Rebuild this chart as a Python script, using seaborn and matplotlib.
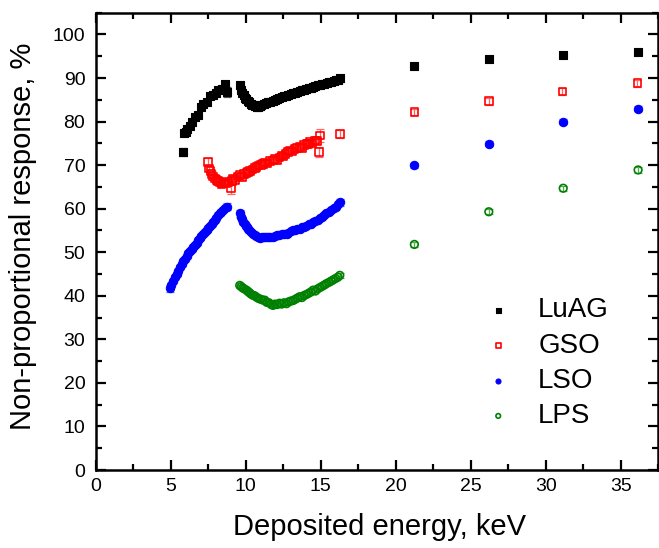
import numpy as np
import pandas as pd
import matplotlib
matplotlib.use("Agg")
import matplotlib.pyplot as plt
import seaborn as sns
from matplotlib.ticker import MultipleLocator

# ---------------- data ----------------
luag_e = [5.79, 5.88, 5.99, 6.10, 6.28, 6.43, 6.61, 6.83, 7.05, 7.12, 7.39, 7.61, 7.79, 8.00, 8.16, 8.39, 8.61, 8.72,
          9.62, 9.70, 9.78, 9.86, 9.95, 10.05, 10.15, 10.25, 10.35, 10.45, 10.55, 10.65, 10.75, 10.85, 10.95, 11.05,
          11.20, 11.35, 11.50, 11.65, 11.80, 11.95, 12.10, 12.25, 12.40, 12.55, 12.70, 12.85, 13.00, 13.15, 13.30,
          13.45, 13.60, 13.75, 13.90, 14.05, 14.20, 14.35, 14.50, 14.65, 14.80, 14.95, 15.10, 15.25, 15.40, 15.55,
          15.70, 15.85, 16.00, 16.15, 16.27,
          21.24, 26.20, 31.16, 36.15]
luag_v = [73.0, 77.4, 77.7, 78.3, 79.1, 79.9, 81.0, 81.6, 83.3, 84.1, 84.5, 85.8, 86.2, 86.5, 87.3, 87.5, 88.7, 86.8,
          88.3, 87.2, 86.5, 86.0, 85.5, 85.1, 84.7, 84.4, 84.1, 83.9, 83.7, 83.5, 83.4, 83.3, 83.5, 83.7,
          84.0, 84.2, 84.4, 84.6, 84.8, 85.0, 85.2, 85.4, 85.6, 85.8, 85.9, 86.1, 86.3, 86.5, 86.6,
          86.8, 87.0, 87.2, 87.3, 87.5, 87.6, 87.8, 88.0, 88.1, 88.3, 88.4, 88.6, 88.7, 88.9, 89.0,
          89.2, 89.3, 89.5, 89.6, 89.9,
          92.7, 94.4, 95.4, 95.9]
luag_err = ([1.0, 0.6, 0.6] + [0.5] * 13 + [0.6, 1.2]
            + [0.8] + [0.4] * 13 + [0.9, 0.4]
            + [0.4] * 30 + [0.4] * 4 + [0.9]
            + [0.6, 0.6, 0.6, 0.6])

gso_e = [7.50, 7.57, 7.65, 7.72, 7.83, 7.94, 8.05, 8.16, 8.27, 8.38, 8.50, 8.61, 8.72, 8.85, 9.00, 9.10, 9.16, 9.30,
         9.45, 9.60, 9.75, 9.90, 10.05, 10.16, 10.30, 10.45, 10.60, 10.71, 10.85, 11.00, 11.16, 11.30, 11.45, 11.60,
         11.82, 11.95, 12.10, 12.25, 12.38, 12.50, 12.65, 12.80, 12.94, 13.10, 13.25, 13.40, 13.60, 13.75, 13.90,
         14.05, 14.15, 14.30, 14.45, 14.60, 14.75, 14.89, 14.93, 16.27,
         21.24, 26.20, 31.10, 36.10]
gso_v = [70.7, 69.2, 68.6, 68.0, 67.4, 66.9, 66.6, 66.3, 66.1, 65.6, 65.8, 66.0, 65.8, 66.2, 64.6, 66.4, 66.9, 66.6,
         67.4, 67.7, 67.3, 67.9, 68.2, 68.4, 68.6, 69.0, 69.3, 69.6, 69.9, 70.1, 70.3, 70.6, 70.4, 70.9,
         71.1, 71.4, 71.2, 71.8, 72.2, 72.0, 72.6, 73.0, 73.4, 73.1, 73.7, 73.9, 74.2, 74.0, 74.6,
         74.9, 74.9, 75.3, 75.0, 75.7, 75.5, 73.0, 76.8, 77.1,
         82.2, 84.7, 86.9, 88.8]
gso_err = ([1.0] + [0.6] * 13 + [1.2] + [0.6] * 3
           + [0.6] * 12 + [1.0] + [0.6] * 3
           + [0.6] * 15
           + [0.6] * 6 + [1.2, 1.4, 0.9]
           + [0.8, 0.8, 0.8, 0.8])

lso_e = [4.95, 5.05, 5.15, 5.28, 5.40, 5.50, 5.61, 5.72, 5.83, 5.95, 6.06, 6.17, 6.28, 6.39, 6.50, 6.61, 6.72, 6.83,
         6.94, 7.05, 7.17, 7.28, 7.39, 7.50, 7.61, 7.72, 7.83, 7.94, 8.05, 8.16, 8.27, 8.38, 8.50, 8.61, 8.72,
         9.60, 9.68, 9.76, 9.83, 9.92, 10.00, 10.08, 10.16, 10.25, 10.35, 10.49, 10.60, 10.70, 10.83, 10.95, 11.10,
         11.25, 11.38, 11.50, 11.65, 11.82, 11.95, 12.10, 12.25, 12.40, 12.55, 12.72, 12.85, 13.00, 13.15, 13.30,
         13.45, 13.60, 13.75, 13.90, 14.05, 14.20, 14.35, 14.49, 14.65, 14.80, 14.95, 15.10, 15.25, 15.38, 15.55,
         15.70, 15.85, 16.00, 16.15, 16.27,
         21.24, 26.20, 31.16, 36.15]
lso_v = [41.7, 42.5, 43.3, 44.3, 45.0, 45.8, 46.6, 47.3, 47.9, 48.5, 49.1, 49.9, 50.4, 50.8, 51.2, 51.7, 52.2, 52.7,
         53.2, 53.7, 54.2, 54.7, 55.1, 55.6, 56.1, 56.6, 57.0, 57.5, 57.9, 58.5, 58.9, 59.3, 59.8, 60.1, 60.4,
         58.9, 58.2, 57.6, 56.9, 56.4, 56.0, 55.7, 55.4, 55.0, 54.7, 54.3, 54.0, 53.8, 53.5, 53.3, 53.5,
         53.5, 53.5, 53.4, 53.5, 53.5, 53.7, 53.9, 54.0, 54.1, 54.2, 54.3, 54.5, 54.8, 55.0, 55.1,
         55.3, 55.4, 55.7, 55.9, 56.1, 56.4, 56.6, 56.9, 57.2, 57.5, 57.8, 58.1, 58.5, 58.9, 59.3,
         59.7, 60.1, 60.5, 61.0, 61.5,
         70.0, 74.9, 80.0, 83.0]
lso_err = ([0.8] + [0.4] * 33 + [0.8]
           + [0.7] + [0.4] * 13 + [0.7] + [0.4] * 35 + [0.8]
           + [0.6, 0.6, 0.6, 0.6])

lps_e = [9.60, 9.70, 9.80, 9.90, 10.05, 10.15, 10.25, 10.35, 10.49, 10.60, 10.71, 10.85, 11.00, 11.15, 11.27,
         11.40, 11.55, 11.70, 11.82, 11.95, 12.10, 12.25, 12.40, 12.55, 12.72, 12.85, 13.00, 13.15, 13.30, 13.45,
         13.60, 13.75, 13.90, 14.05, 14.20, 14.35, 14.49, 14.65, 14.80, 14.95, 15.10, 15.25, 15.38, 15.55, 15.70,
         15.85, 16.00, 16.15, 16.27,
         21.24, 26.20, 31.16, 36.15]
lps_v = [42.4, 42.1, 41.8, 41.6, 41.3, 41.0, 40.7, 40.4, 40.1, 40.0, 39.7, 39.4, 39.2, 39.0, 39.0,
         38.5, 38.4, 38.0, 37.8, 38.1, 38.0, 38.3, 38.1, 38.4, 38.2, 38.6, 38.8, 38.9, 39.2, 39.5,
         39.8, 39.6, 40.1, 40.3, 40.6, 40.9, 41.3, 41.1, 41.6, 41.9, 42.2, 42.5, 42.8, 43.1, 43.4,
         43.7, 44.0, 44.3, 44.7,
         51.8, 59.3, 64.7, 68.9]
lps_err = [0.6] + [0.3] * 47 + [0.6] + [0.6, 0.6, 0.6, 0.6]

series_names = ["LuAG", "GSO", "LSO", "LPS"]
x_ticks = [0, 5, 10, 15, 20, 25, 30, 35]
y_ticks = [0, 10, 20, 30, 40, 50, 60, 70, 80, 90, 100]

# ---------------- build table ----------------
frames = []
for name, e, v, err in [("LuAG", luag_e, luag_v, luag_err), ("GSO", gso_e, gso_v, gso_err),
                        ("LSO", lso_e, lso_v, lso_err), ("LPS", lps_e, lps_v, lps_err)]:
    n = min(len(e), len(v))
    err = (list(err) + [0.5] * n)[:n]
    frames.append(pd.DataFrame({"energy": e[:n], "response": v[:n], "err": err, "crystal": name}))
df = pd.concat(frames, ignore_index=True)

# ---------------- styling ----------------
sns.set_style("ticks", rc={"text.color": "black", "axes.labelcolor": "black",
                           "xtick.color": "black", "ytick.color": "black",
                           "axes.edgecolor": "black"})
plt.rcParams["font.family"] = ["Liberation Sans", "DejaVu Sans"]

fig = plt.figure(figsize=(6.59, 5.48), dpi=100)
ax = fig.add_axes([0.1452, 0.1423, 0.999 - 0.1452, 0.9768 - 0.1423])

colors = {"LuAG": "#000000", "GSO": "#ff0000", "LSO": "#0000ff", "LPS": "#008000"}
err_colors = {"LuAG": "#555555", "GSO": "#ff6666", "LSO": "#6666ff", "LPS": "#55aa55"}
markers = {"LuAG": "s", "GSO": "s", "LSO": "o", "LPS": "o"}
filled = {"LuAG": True, "GSO": False, "LSO": True, "LPS": False}

for name in series_names:
    d = df[df["crystal"] == name]
    ax.errorbar(d["energy"], d["response"], yerr=d["err"], fmt="none",
                ecolor=err_colors[name], elinewidth=0.9, capsize=3, capthick=0.9, zorder=2)
for name in series_names:
    d = df[df["crystal"] == name]
    if filled[name]:
        sns.scatterplot(data=d, x="energy", y="response", ax=ax, marker=markers[name],
                        s=36, color=colors[name], edgecolor=colors[name], linewidth=0.8,
                        label=name, zorder=3)
    else:
        sns.scatterplot(data=d, x="energy", y="response", ax=ax, marker=markers[name],
                        s=30, color=colors[name], facecolor="none", edgecolor=colors[name],
                        linewidth=1.2, label=name, zorder=3)

ax.set_xlim(0, 37.5)
ax.set_ylim(0, 105)
ax.set_xticks(x_ticks)
ax.set_yticks(y_ticks)
ax.xaxis.set_minor_locator(MultipleLocator(2.5))
ax.yaxis.set_minor_locator(MultipleLocator(5))
ax.tick_params(which="both", direction="in", top=True, right=True, width=1.6, colors="black")
ax.tick_params(which="major", length=7, labelsize=14)
ax.tick_params(axis="x", which="major", pad=6)
ax.tick_params(axis="y", which="major", pad=7.5)
ax.tick_params(which="minor", length=4)
for sp in ax.spines.values():
    sp.set_linewidth(1.8)
    sp.set_color("black")
    sp.set_visible(True)

ax.set_xlabel("Deposited energy, keV", fontsize=21)
ax.set_ylabel("Non-proportional response, %", fontsize=21)
ax.xaxis.set_label_coords(0.505, -0.095)
ax.yaxis.set_label_coords(-0.105, 0.511)

leg = ax.legend(loc="upper left", bbox_to_anchor=(0.671, 0.402), frameon=False, fontsize=20,
                handlelength=1.0, handletextpad=0.94, labelspacing=0.335, markerscale=0.6,
                borderaxespad=0)

fig.savefig("out.png", dpi=100)
